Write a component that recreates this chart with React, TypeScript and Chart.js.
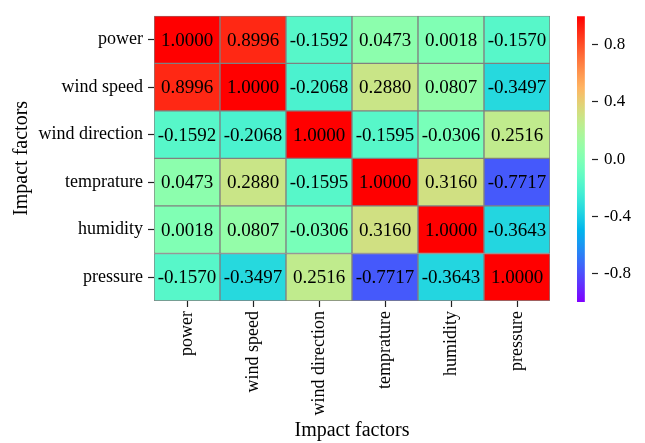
import React, { useEffect, useRef } from "react";
import { Chart, registerables } from "chart.js";

Chart.register(...registerables);

const rowLabels = ["power", "wind speed", "wind direction", "temprature", "humidity", "pressure"];
const colLabels = ["power", "wind speed", "wind direction", "temprature", "humidity", "pressure"];

const powerRow = [1.0, 0.8996, -0.1592, 0.0473, 0.0018, -0.157];
const windSpeedRow = [0.8996, 1.0, -0.2068, 0.288, 0.0807, -0.3497];
const windDirectionRow = [-0.1592, -0.2068, 1.0, -0.1595, -0.0306, 0.2516];
const tempratureRow = [0.0473, 0.288, -0.1595, 1.0, 0.316, -0.7717];
const humidityRow = [0.0018, 0.0807, -0.0306, 0.316, 1.0, -0.3643];
const pressureRow = [-0.157, -0.3497, 0.2516, -0.7717, -0.3643, 1.0];

const matrixRows = [powerRow, windSpeedRow, windDirectionRow, tempratureRow, humidityRow, pressureRow];

const colorbarTicks = [-0.8, -0.4, 0.0, 0.4, 0.8];
const vmin = -1;
const vmax = 1;
const axisTitle = "Impact factors";

const FONT = "'Liberation Serif', 'Times New Roman', serif";

function clamp01(v: number) {
  return Math.max(0, Math.min(1, v));
}

// matplotlib "rainbow" colormap
function rainbow(t: number) {
  const x = clamp01(t);
  const r = clamp01(Math.abs(2 * x - 0.5));
  const g = clamp01(Math.sin(Math.PI * x));
  const b = clamp01(Math.cos((Math.PI / 2) * x));
  return `rgb(${Math.round(r * 255)},${Math.round(g * 255)},${Math.round(b * 255)})`;
}

function norm(v: number) {
  return (v - vmin) / (vmax - vmin);
}

const cellTextPlugin = {
  id: "cellText",
  afterDatasetsDraw(chart: any) {
    const ctx = chart.ctx;
    ctx.save();
    ctx.font = `19px ${FONT}`;
    ctx.fillStyle = "#000";
    ctx.textAlign = "center";
    ctx.textBaseline = "middle";
    matrixRows.forEach((row, i) => {
      const meta = chart.getDatasetMeta(i);
      meta.data.forEach((el: any, j: number) => {
        const p = el.getCenterPoint();
        ctx.fillText(row[j].toFixed(4), p.x, p.y + 1);
      });
    });
    ctx.restore();
  },
};

export default function App() {
  const heatRef = useRef<HTMLCanvasElement>(null);
  const barRef = useRef<HTMLCanvasElement>(null);

  useEffect(() => {
    Chart.defaults.font.family = FONT;
    Chart.defaults.color = "#000";

    const tickGrid = {
      display: true,
      drawOnChartArea: false,
      drawTicks: true,
      tickLength: 6,
      tickWidth: 1.2,
      tickColor: "#222",
      offset: false,
    };

    const heat = new Chart(heatRef.current as HTMLCanvasElement, {
      type: "bar",
      data: {
        labels: colLabels,
        datasets: matrixRows.map((row, i) => ({
          label: rowLabels[i],
          data: row.map(() => 1),
          backgroundColor: row.map((v) => rainbow(norm(v))),
          borderColor: "#808080",
          borderWidth: 1,
          borderSkipped: false,
          barPercentage: 1,
          categoryPercentage: 1,
          xAxisID: "x",
          yAxisID: "y",
        })),
      },
      options: {
        responsive: false,
        animation: false,
        layout: { padding: { top: 10, right: 10, left: 0, bottom: 0 } },
        plugins: { legend: { display: false }, tooltip: { enabled: false } },
        scales: {
          x: {
            type: "category",
            stacked: true,
            offset: true,
            grid: tickGrid,
            border: { display: false },
            ticks: { minRotation: 90, maxRotation: 90, padding: 4, color: "#000", font: { size: 18 } },
            title: { display: true, text: axisTitle, color: "#000", font: { size: 20 }, padding: { top: 0, bottom: 0 } },
            afterFit: (s: any) => {
              s.height = 142;
            },
          },
          y: {
            type: "linear",
            stacked: true,
            display: false,
            min: 0,
            max: matrixRows.length,
            reverse: true,
          },
          yLabels: {
            type: "category",
            labels: rowLabels,
            position: "left",
            offset: true,
            grid: tickGrid,
            border: { display: false },
            ticks: { padding: 5, color: "#000", font: { size: 18 } },
            title: { display: true, text: axisTitle, color: "#000", font: { size: 20 }, padding: { top: 10, bottom: 0 } },
            afterFit: (s: any) => {
              s.width = 154;
            },
          },
        },
      } as any,
      plugins: [cellTextPlugin],
    });

    const bar = new Chart(barRef.current as HTMLCanvasElement, {
      type: "bar",
      data: {
        labels: [""],
        datasets: [
          {
            data: [[vmin, vmax]] as any,
            backgroundColor: (c: any) => {
              const area = c.chart.chartArea;
              if (!area) return "#888";
              const g = c.chart.ctx.createLinearGradient(0, area.bottom, 0, area.top);
              for (let k = 0; k <= 32; k++) g.addColorStop(k / 32, rainbow(k / 32));
              return g;
            },
            borderWidth: 0,
            barPercentage: 1,
            categoryPercentage: 1,
          },
        ],
      },
      options: {
        responsive: false,
        animation: false,
        layout: { padding: { top: 10, bottom: 141, left: 17, right: 0 } },
        plugins: { legend: { display: false }, tooltip: { enabled: false } },
        scales: {
          x: { display: false, offset: false },
          y: {
            position: "right",
            min: vmin,
            max: vmax,
            grid: tickGrid,
            border: { display: false },
            afterBuildTicks: (s: any) => {
              s.ticks = colorbarTicks.map((v) => ({ value: v }));
            },
            ticks: {
              padding: 6,
              color: "#000",
              font: { size: 17 },
              callback: (v: any) => Number(v).toFixed(1),
            },
            afterFit: (s: any) => {
              s.width = 53;
            },
          },
        },
      } as any,
    });

    return () => {
      heat.destroy();
      bar.destroy();
    };
  }, []);

  return (
    <div style={{ position: "absolute", left: 0, top: 0, width: 645, height: 443, background: "#fff" }}>
      <canvas ref={heatRef} width={560} height={443} style={{ position: "absolute", left: 0, top: 0, display: "block" }} />
      <canvas ref={barRef} width={85} height={443} style={{ position: "absolute", left: 560, top: 0, display: "block" }} />
    </div>
  );
}
